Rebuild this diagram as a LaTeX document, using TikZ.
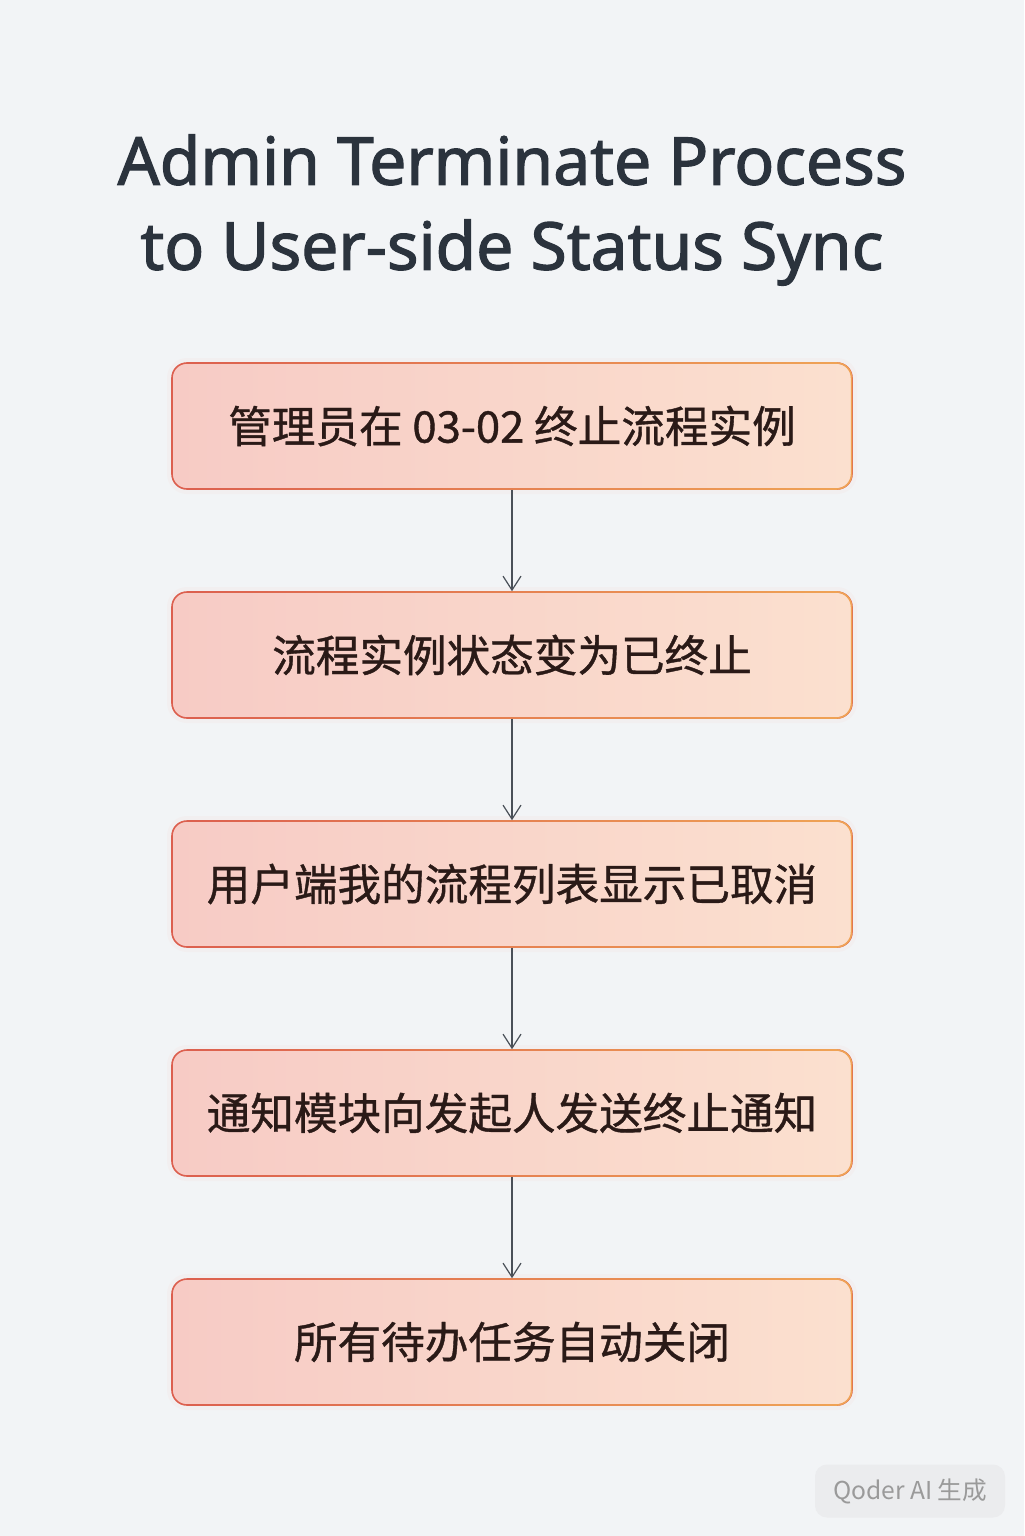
\documentclass[tikz,border=0pt]{standalone}
\usepackage{fontspec}
\setmainfont{Noto Sans}
\newfontfamily\titlefont[FakeBold=1.8]{Noto Sans}
\newfontfamily\cjk[FakeBold=0.9]{Noto Sans CJK SC}
\newfontfamily\cjkplain{Noto Sans CJK SC}
\usetikzlibrary{arrows.meta,fadings}

\definecolor{bgcol}{HTML}{F2F4F6}
\definecolor{titlecol}{HTML}{2B333D}
\definecolor{edgeL}{HTML}{DC5F4F}
\definecolor{edgeR}{HTML}{F0A556}
\definecolor{fillL}{HTML}{F7CBC5}
\definecolor{fillR}{HTML}{FBE0CF}
\definecolor{stepink}{HTML}{2A1A17}
\definecolor{arrowcol}{HTML}{4A5058}
\definecolor{wmfill}{HTML}{EBECEE}
\definecolor{wmink}{HTML}{9A9A9A}

\tikzfading[name=fade right, left color=transparent!100, right color=transparent!0]

\tikzset{
  stepbox/.style={rounded corners=7.5pt, minimum width=340pt, minimum height=63pt,
    draw=edgeL, line width=0.8pt, left color=fillL, right color=fillR,
    text=stepink, font=\cjk\fontsize{21.8pt}{26pt}\selectfont,
    preaction={draw=edgeL!30, line width=5pt, opacity=0.12},
    postaction={draw=edgeR, line width=0.8pt, path fading=fade right}},
  flow/.style={draw=arrowcol, line width=0.6pt, -{Straight Barb[length=7pt,width=9pt]}}
}

\begin{document}
\begin{tikzpicture}[x=0.5pt,y=-0.5pt]
    % Background
    \fill[bgcol] (0,0) rectangle (1024,1536);
    \useasboundingbox (0,0) rectangle (1024,1536);

    % Title
    \node[text=titlecol, align=center, font=\titlefont\fontsize{33pt}{42.5pt}\selectfont] (title) at (512,210)
        {Admin Terminate Process\\to User-side Status Sync};

    % Steps
    \node[stepbox] (s1) at (512,426) {管理员在 03-02 终止流程实例};
    \node[stepbox] (s2) at (512,655) {流程实例状态变为已终止};
    \node[stepbox] (s3) at (512,884) {用户端我的流程列表显示已取消};
    \node[stepbox] (s4) at (512,1113) {通知模块向发起人发送终止通知};
    \node[stepbox] (s5) at (512,1342) {所有待办任务自动关闭};

    % Arrows
    \draw[flow] (s1) -- (s2);
    \draw[flow] (s2) -- (s3);
    \draw[flow] (s3) -- (s4);
    \draw[flow] (s4) -- (s5);

    % Watermark
    \node[fill=wmfill, rounded corners=6pt, minimum width=95pt, minimum height=26.5pt,
        text=wmink, font=\cjkplain\fontsize{12.3pt}{14pt}\selectfont] (mark) at (910,1491) {Qoder AI 生成};
\end{tikzpicture}
\end{document}
